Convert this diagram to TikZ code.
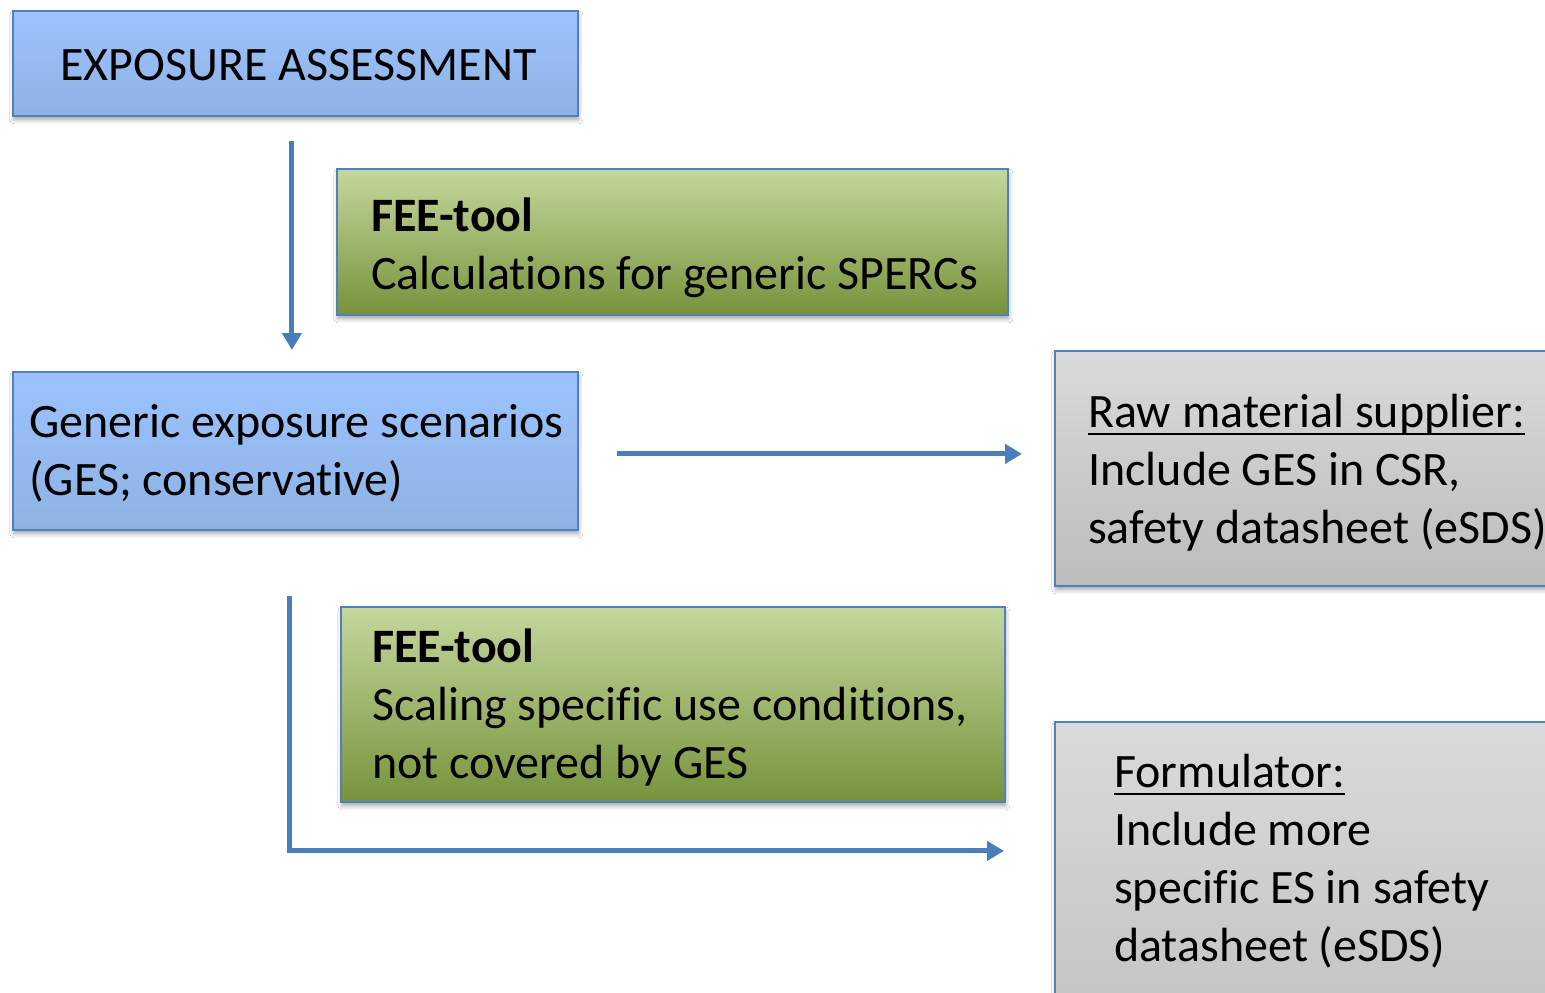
\documentclass[tikz,border=0pt]{standalone}
\usepackage{fontspec}
\setmainfont{Carlito}[Ligatures=NoCommon]
\usetikzlibrary{arrows.meta,calc,shadows.blur}

\definecolor{edgeblue}{RGB}{79,129,189}
\definecolor{flowblue}{RGB}{74,126,187}
\definecolor{blueTop}{RGB}{157,195,255}
\definecolor{blueBot}{RGB}{141,178,226}
\definecolor{greenTop}{RGB}{196,215,157}
\definecolor{greenBot}{RGB}{119,147,60}
\definecolor{greyTop}{RGB}{218,218,218}
\definecolor{greyBot}{RGB}{188,188,188}

% underline drawn as a rule, scaled for the large font
\newcommand{\ulword}[1]{\setbox0\hbox{#1}\rlap{\rule[-8pt]{\wd0}{2.2pt}}\box0}
% left-aligned block of lines whose reference point is the first baseline
\newcommand{\textlines}[1]{\vtop{\halign{##\hfil\cr#1\crcr}}}

\tikzset{
  box/.style={draw=edgeblue, line width=1.8pt, rectangle, inner sep=0pt,
    anchor=north west,
    blur shadow={shadow xshift=1pt, shadow yshift=-4pt,
      shadow blur radius=4pt, shadow opacity=35}},
  bluebox/.style={box, top color=blueTop, bottom color=blueBot},
  greenbox/.style={box, top color=greenTop, bottom color=greenBot},
  greybox/.style={box, top color=greyTop, bottom color=greyBot},
  txt/.style={anchor=base west, inner sep=0pt, text=black,
    font=\fontsize{48}{58}\selectfont},
  flow/.style={draw=flowblue, line width=5pt,
    -{Triangle[length=17pt,width=19pt]}},
}

\begin{document}
\begin{tikzpicture}[x=1pt,y=-1pt]
\useasboundingbox (0,0) rectangle (1545,993);
\clip (0,0) rectangle (1545,993);
\fill[white] (0,0) rectangle (1545,993);

% boxes
\node[bluebox, minimum width=565pt, minimum height=105pt] (top) at (12,10) {};
\node[greenbox, minimum width=671pt, minimum height=146pt] (calc) at (336,168) {};
\node[bluebox, minimum width=565pt, minimum height=158pt] (ges) at (12,371) {};
\node[greybox, minimum width=546pt, minimum height=235pt] (sup) at (1054,350) {};
\node[greenbox, minimum width=664pt, minimum height=195pt] (scale) at (340,606) {};
\node[greybox, minimum width=546pt, minimum height=400pt] (form) at (1054,721) {};

% texts
\node[txt, anchor=base] (toptxt) at (298.5,80) {EXPOSURE ASSESSMENT};
\node[txt] (calctxt) at (371,231)
  {\textlines{\bfseries FEE-tool\cr Calculations for generic SPERCs}};
\node[txt] (gestxt) at (29,437)
  {\textlines{Generic exposure scenarios\cr (GES; conservative)}};
\node[txt] (suptxt) at (1088,427)
  {\textlines{\ulword{Raw material supplier:}\cr Include GES in CSR,\cr safety datasheet (eSDS)}};
\node[txt] (scaletxt) at (372,662)
  {\textlines{\bfseries FEE-tool\cr Scaling specific use conditions,\cr not covered by GES}};
\node[txt] (formtxt) at (1114,787)
  {\textlines{\ulword{Formulator:}\cr Include more\cr specific ES in safety\cr datasheet (eSDS)}};

% connectors
\draw[flow] ($(top.south)+(-3.5,24)$) -- ($(ges.north)+(-3.5,-21)$);
\draw[flow] ($(ges.east)+(38,3)$) -- ($(sup.west)+(-32,-14.5)$);
\draw[flow] ($(ges.south)+(-5.5,65)$) |- ($(form.west)+(-50,-71)$);
\end{tikzpicture}
\end{document}
